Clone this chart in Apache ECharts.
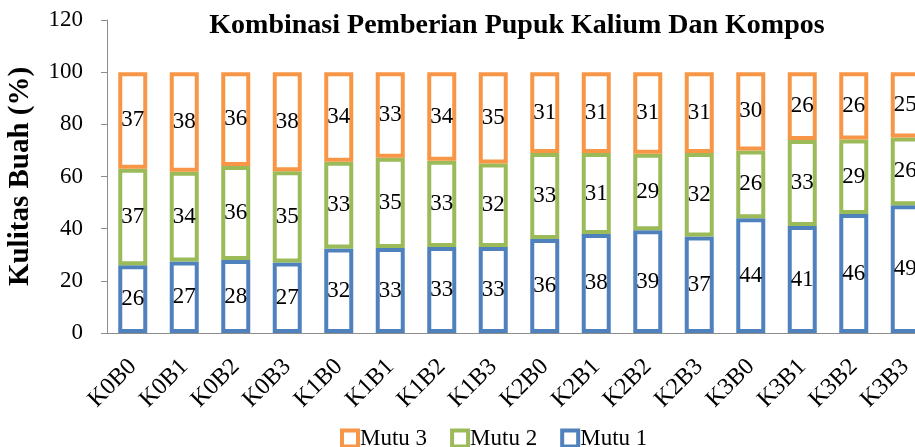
<!DOCTYPE html>
<html>
<head>
<meta charset="utf-8">
<script src="https://cdn.jsdelivr.net/npm/echarts@6/dist/echarts.min.js"></script>
<style>
  html, body { margin: 0; padding: 0; background: #fff; }
  #chart { width: 915px; height: 447px; }
</style>
</head>
<body>
<div id="chart"></div>
<script>
// kategori perlakuan
const categories = ['K0B0', 'K0B1', 'K0B2', 'K0B3', 'K1B0', 'K1B1', 'K1B2', 'K1B3',
  'K2B0', 'K2B1', 'K2B2', 'K2B3', 'K3B0', 'K3B1', 'K3B2', 'K3B3'];
// persen tiap mutu
const mutu1 = [26, 27.4, 28, 27, 32.4, 32.6, 33, 33, 36, 38, 39.4, 37, 44, 41, 45.6, 49];
const mutu2 = [37, 34.4, 36, 35, 33.3, 34.6, 33, 32, 33, 31, 29.3, 32, 26, 33, 28.6, 26];
const mutu3 = [37, 38.2, 36, 38, 34.3, 32.8, 34, 35, 31, 31, 31.3, 31, 30, 26, 25.8, 25];
const yTicks = { min: 0, max: 120, interval: 20 };

const serif = 'Liberation Serif';

function barSeries(name, data, color) {
  return {
    name,
    type: 'bar',
    stack: 'mutu',
    data,
    barWidth: 29,
    itemStyle: { color: '#fff', borderColor: color, borderWidth: 4 },
    label: {
      show: true,
      position: 'inside',
      color: '#000',
      fontFamily: serif,
      fontSize: 23,
      formatter: p => Math.round(p.value)
    }
  };
}

const chart = echarts.init(document.getElementById('chart'));
chart.setOption({
  animation: false,
  title: {
    text: 'Kombinasi Pemberian Pupuk Kalium Dan Kompos',
    left: 512,
    textAlign: 'center',
    top: 7,
    textStyle: { fontFamily: serif, fontWeight: 'bold', fontSize: 28, color: '#000' }
  },
  legend: {
    data: ['Mutu 3', 'Mutu 2', 'Mutu 1'],
    left: 340,
    top: 427,
    padding: 0,
    icon: 'rect',
    itemWidth: 16,
    itemHeight: 16,
    itemGap: 23,
    itemStyle: { borderWidth: 4 },
    textStyle: { fontFamily: serif, fontSize: 23, color: '#000', padding: [0, 0, 0, -3] }
  },
  grid: { left: 107, width: 824, top: 20, bottom: 114, containLabel: false, outerBoundsMode: 'none' },
  xAxis: {
    type: 'category',
    data: categories,
    axisLine: { lineStyle: { color: '#8c8c8c', width: 1 } },
    axisTick: { show: false },
    axisLabel: { rotate: 45, margin: 30, color: '#000', fontFamily: serif, fontSize: 24, interval: 0 }
  },
  yAxis: {
    type: 'value',
    min: yTicks.min,
    max: yTicks.max,
    interval: yTicks.interval,
    name: 'Kulitas Buah (%)',
    nameLocation: 'middle',
    nameGap: 72,
    nameTextStyle: { fontFamily: serif, fontWeight: 'bold', fontSize: 29, color: '#000' },
    axisLine: { show: true, lineStyle: { color: '#8c8c8c', width: 1 } },
    axisTick: { show: true, length: 6, lineStyle: { color: '#8c8c8c' } },
    axisLabel: { margin: 24, color: '#000', fontFamily: serif, fontSize: 23 },
    splitLine: { show: false }
  },
  series: [
    barSeries('Mutu 1', mutu1, '#4F81BD'),
    barSeries('Mutu 2', mutu2, '#9BBB59'),
    barSeries('Mutu 3', mutu3, '#F79646')
  ]
});
</script>
</body>
</html>
